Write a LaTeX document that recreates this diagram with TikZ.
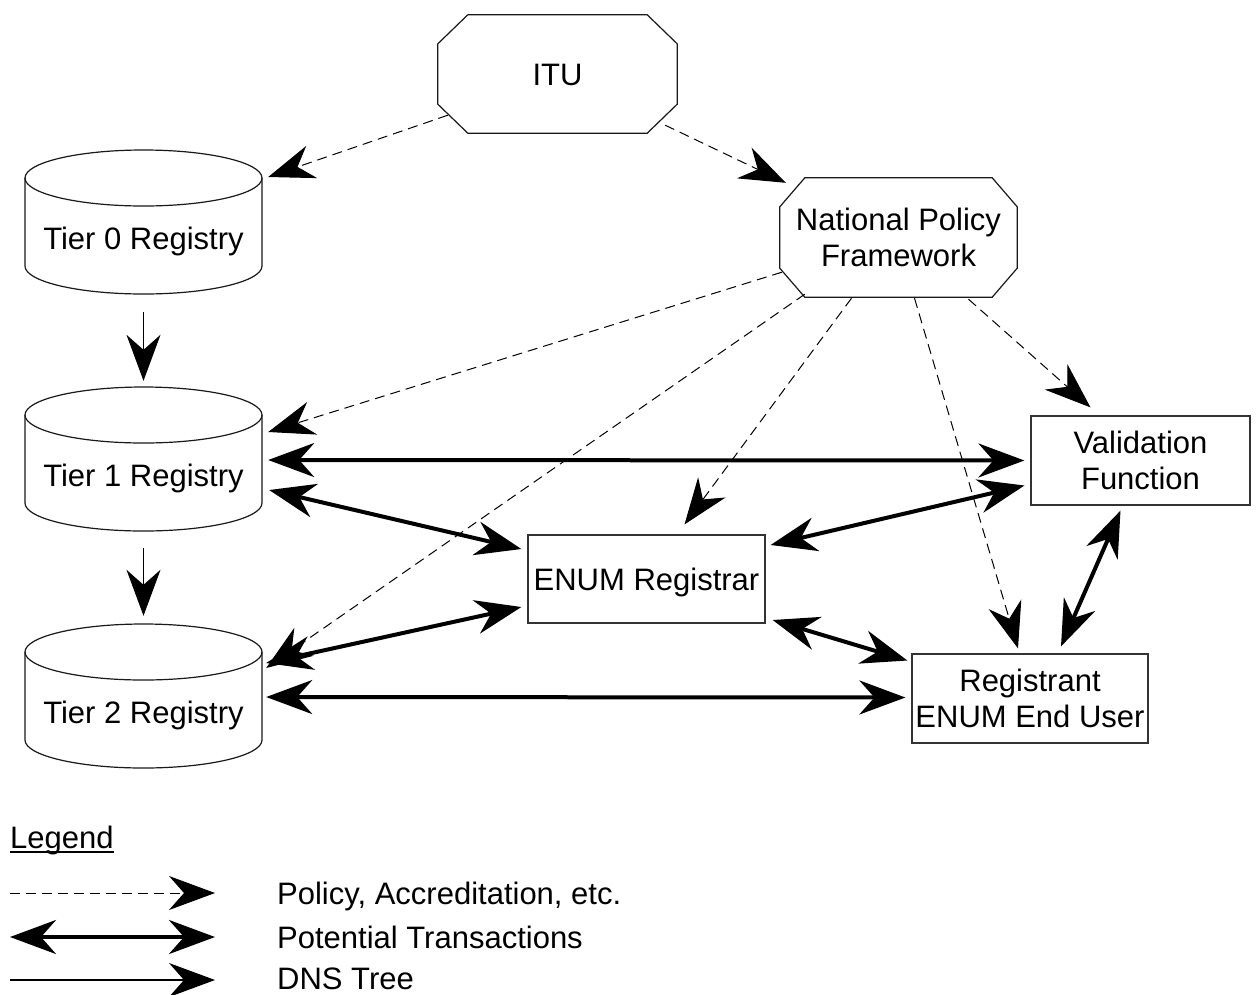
\documentclass[tikz,border=0pt]{standalone}
\usepackage{fontspec}
\setmainfont{Liberation Sans}
\usetikzlibrary{arrows.meta,calc}

\tikzset{
  every node/.style={font=\fontsize{31pt}{36pt}\selectfont, inner sep=0pt},
  oneline/.style={text height=23pt, text depth=0pt},
  twolines/.style={align=center},
  frame/.style={draw=none, rectangle},
  box/.style={rectangle, draw=black!80, line width=1.2pt},
  outline/.style={draw=black!90, line width=1.2pt, line join=miter},
  >={Stealth[length=46pt,width=34pt,inset=15pt]},
  policy/.style={->, line width=1pt, dash pattern=on 10pt off 6pt},
  trans/.style={<->, line width=4pt},
  dns/.style={->, line width=1.2pt},
}

% registry drum: name, centre x, centre y of the top ellipse, label
\newcommand{\drum}[4]{%
  \node[frame, minimum width=237pt, minimum height=144pt] (#1) at (#2,#3+44) {};
  \draw[outline] (#2,#3) ellipse [x radius=118.5pt, y radius=28pt];
  \draw[outline] (#2-118.5,#3) -- (#2-118.5,#3+88)
     arc[start angle=180, end angle=360, x radius=118.5pt, y radius=28pt]
     -- (#2+118.5,#3);
  \node[anchor=base] (#1-label) at (#2,#3+71) {#4};
}

% octagon outline drawn around a named frame node: node, corner dx, corner dy
\newcommand{\octo}[3]{%
  \draw[outline] ($(#1.north west)+(#2,0)$) -- ($(#1.north east)+(-#2,0)$)
    -- ($(#1.north east)+(0,#3)$) -- ($(#1.south east)+(0,-#3)$)
    -- ($(#1.south east)+(-#2,0)$) -- ($(#1.south west)+(#2,0)$)
    -- ($(#1.south west)+(0,-#3)$) -- ($(#1.north west)+(0,#3)$) -- cycle;
}

\begin{document}
\begin{tikzpicture}[x=1pt, y=-1pt]
\useasboundingbox[fill=white] (0,0) rectangle (1260,994);

% policy bodies
\node[frame, oneline, minimum width=239pt, minimum height=118pt] (itu) at (557.5,74) {ITU};
\octo{itu}{30}{29}
\node[frame, twolines, minimum width=237pt, minimum height=119pt] (npf) at (898.5,237.5) {National Policy\\Framework};
\octo{npf}{25}{29}

% registries
\drum{t0}{143.5}{178}{Tier 0 Registry}
\drum{t1}{143.5}{415}{Tier 1 Registry}
\drum{t2}{143.5}{652}{Tier 2 Registry}

% other parties
\node[box, oneline, minimum width=237pt, minimum height=88pt] (reg) at (646.5,579) {ENUM Registrar};
\node[box, twolines, minimum width=219pt, minimum height=89pt] (val) at (1140.5,460.5) {Validation\\Function};
\node[box, twolines, minimum width=236pt, minimum height=89pt] (usr) at (1030,698.5) {Registrant\\ENUM End User};

% policy, accreditation
\draw[policy] ($(itu.south west)+(10,-18)$) -- ($(t0.east)+(6,-45)$);
\draw[policy] ($(itu.south east)+(-12,-8)$) -- ($(npf.north west)+(6,5)$);
\draw[policy] ($(npf.south west)+(2,-25)$) -- ($(t1.east)+(6,-27)$);
\draw[policy] ($(npf.south west)+(25,-3)$) -- ($(t2.east)+(4,-28)$);
\draw[policy] ($(npf.south)+(-47,1)$) -- ($(reg.north)+(38,-10)$);
\draw[policy] ($(npf.south)+(16,1)$) -- ($(usr.north)+(-12,-5)$);
\draw[policy] ($(npf.south)+(70,2)$) -- ($(val.north)+(-50,-8)$);

% potential transactions
\draw[trans] ($(t1.east)+(6,1)$) -- ($(val.west)+(-6,0)$);
\draw[trans] ($(t1.east)+(7,31)$) -- ($(reg.west)+(-6,-30)$);
\draw[trans] ($(t2.east)+(4,-33)$) -- ($(reg.west)+(-6,28)$);
\draw[trans] ($(t2.east)+(4,1)$) -- ($(usr.west)+(-6,-1)$);
\draw[trans] ($(reg.east)+(5,-34)$) -- ($(val.west)+(-6,25)$);
\draw[trans] ($(reg.east)+(7,41)$) -- ($(usr.west)+(-4,-38)$);
\draw[trans] ($(val.south)+(-20,5)$) -- ($(usr.north)+(31,-7)$);

% DNS tree
\draw[dns] ($(t0.south)+(0,18)$) -- ($(t1.north)+(0,-6)$);
\draw[dns] ($(t1.south)+(0,17)$) -- ($(t2.north)+(0,-8)$);

% legend
\node[anchor=base west] (legend) at (10,848) {Legend};
\draw[line width=2pt] ($(legend.base west)+(0,4)$) -- ($(legend.base east)+(0,4)$);
\coordinate (pa) at (10,893);  \coordinate (pb) at (215,893);
\coordinate (ta) at (10,937);  \coordinate (tb) at (215,937);
\coordinate (da) at (10,980);  \coordinate (db) at (215,980);
\draw[policy] (pa) -- (pb);
\draw[trans] (ta) -- (tb);
\draw[dns] (da) -- (db);
\node[anchor=base west] (lp) at (277,904) {Policy, Accreditation, etc.};
\node[anchor=base west] (lt) at (277,948) {Potential Transactions};
\node[anchor=base west] (ld) at (277,989) {DNS Tree};
\end{tikzpicture}
\end{document}
